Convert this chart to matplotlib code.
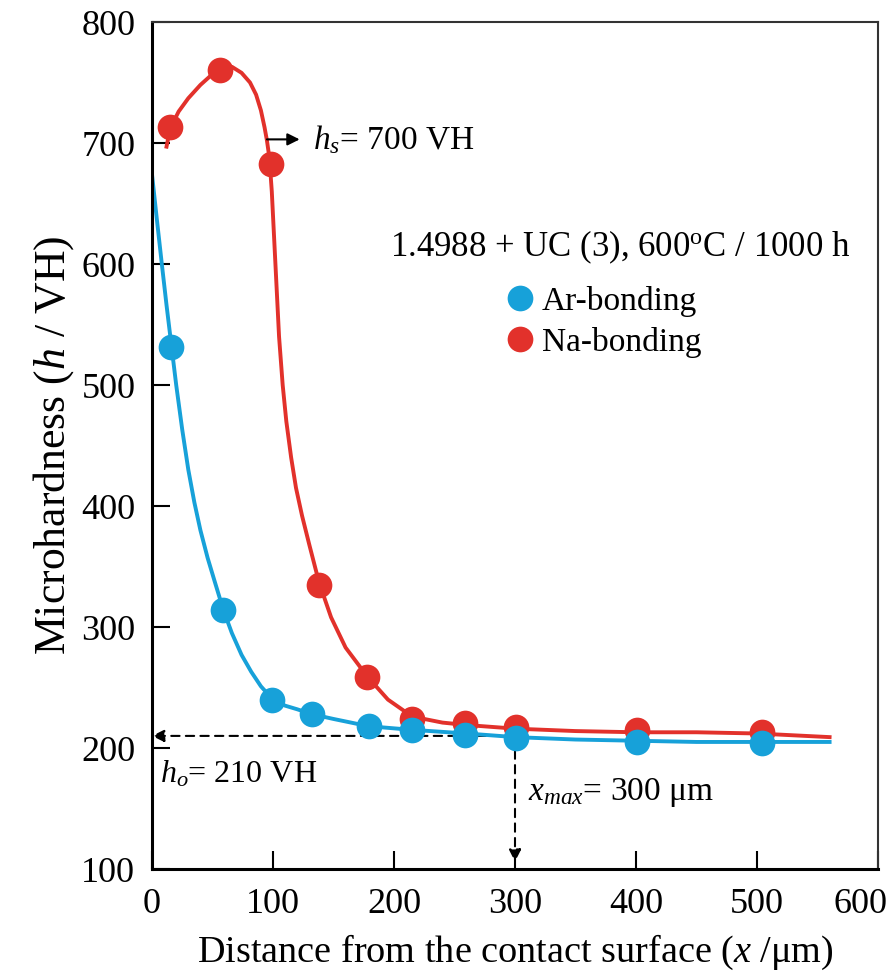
import matplotlib
matplotlib.use("Agg")
import matplotlib.pyplot as plt
import matplotlib.transforms as mtransforms

plt.rcParams['font.family'] = ['Liberation Serif', 'DejaVu Serif']
plt.rcParams['mathtext.fontset'] = 'custom'
plt.rcParams['mathtext.rm'] = 'Liberation Serif'
plt.rcParams['mathtext.it'] = 'Liberation Serif:italic'

blue = '#17a1d9'
red = '#e2312b'

# measured points
ar_x = [16, 59, 99, 132, 179, 215, 259, 301, 401, 504]
ar_y = [531, 314, 240, 228, 218, 215, 211, 208, 205, 204]
na_x = [15, 56, 98, 138, 178, 215, 259, 301, 401, 504]
na_y = [713, 760, 683, 335, 259, 224, 221, 217, 215, 213]

# fitted curves
ar_fit_x = [0, 4, 8, 12, 16, 20, 25, 30, 35, 40, 46, 52, 59, 66, 74, 82, 90,
            99, 110, 120, 132, 150, 179, 215, 260, 300, 350, 400, 450, 500, 560]
ar_fit_y = [674, 637, 601, 566, 533, 500, 463, 430, 403, 380, 357, 337, 314,
            295, 277, 263, 251, 241, 235, 232, 228, 224, 218, 215, 212, 209,
            207, 206, 205, 205, 205]
na_fit_x = [12, 15, 22, 30, 40, 50, 58, 66, 74, 81, 86, 90, 93, 95, 97, 99,
            101, 103, 105, 108, 111, 115, 119, 124, 130, 138, 148, 160, 178,
            195, 215, 240, 260, 300, 350, 400, 450, 500, 560]
na_fit_y = [697, 712, 726, 737, 748, 757, 762, 763, 758, 750, 740, 727, 713,
            702, 688, 660, 620, 580, 540, 500, 470, 440, 415, 392, 368, 337,
            308, 283, 259, 240, 226, 221, 219, 216, 214, 213, 213, 212, 209]

h_s = 700
h_o = 210
x_max = 300

fig = plt.figure(figsize=(8.91, 9.74), dpi=100)
ax = fig.add_axes([0.1706, 0.1078, 0.8148, 0.8696])

ax.plot(ar_fit_x, ar_fit_y, color=blue, lw=2.8, zorder=2)
ax.plot(na_fit_x, na_fit_y, color=red, lw=2.8, zorder=2)
ax.plot(na_x, na_y, 'o', color=red, ms=18.5, mec='none', zorder=3, label='Na-bonding')
ax.plot(ar_x, ar_y, 'o', color=blue, ms=18.5, mec='none', zorder=4, label='Ar-bonding')

# dashed guide lines
ax.annotate('', xy=(0, h_o), xytext=(x_max, h_o),
            arrowprops=dict(arrowstyle='-|>', ls=(0, (4, 3)), lw=1.5, color='black',
                            mutation_scale=18, shrinkA=0, shrinkB=0), zorder=1)
ax.annotate('', xy=(x_max, 106), xytext=(x_max, h_o),
            arrowprops=dict(arrowstyle='-|>', ls=(0, (4, 3)), lw=1.5, color='black',
                            mutation_scale=18, shrinkA=0, shrinkB=0), zorder=1)
ax.annotate('', xy=(122, 703), xytext=(95, 703),
            arrowprops=dict(arrowstyle='-|>', lw=1.5, color='black',
                            mutation_scale=18, shrinkA=0, shrinkB=0))

ax.text(133, 703, r'$h_s$= %d VH' % h_s, fontsize=24, va='center', ha='left')
ax.text(7, 178, r'$h_o$= %d VH' % h_o, fontsize=23, va='center', ha='left')
ax.text(311, 163, r'$x_{max}$= %d μm' % x_max, fontsize=24, va='center', ha='left')

ax.text(387, 614, '1.4988 + UC (3), 600$^{\\mathrm{o}}$C / 1000 h', fontsize=25,
        ha='center', va='center')
handles, labels = ax.get_legend_handles_labels()
ax.legend(handles[::-1], labels[::-1], loc='upper left', bbox_to_anchor=(0.468, 0.708),
          frameon=False, fontsize=24, handlelength=0.7, handletextpad=0.3,
          borderpad=0, labelspacing=0.3, markerscale=1.0)

ax.set_xlim(0, 600)
ax.set_ylim(100, 800)
ax.set_xticks([0, 100, 200, 300, 400, 500, 600])
ax.set_yticks([100, 200, 300, 400, 500, 600, 700, 800])
ax.tick_params(direction='in', length=13, width=1.5, labelsize=26, pad=12)
ax.tick_params(axis='x', pad=14)
for s in ['left', 'bottom']:
    ax.spines[s].set_linewidth(2.2)
for s in ['top', 'right']:
    ax.spines[s].set_linewidth(1.5)
    ax.spines[s].set_color('#333333')

# keep the last x tick label inside the figure
last = ax.get_xticklabels()[-1]
last.set_transform(last.get_transform() +
                   mtransforms.ScaledTranslation(-0.17, 0, fig.dpi_scale_trans))

ax.set_xlabel('Distance from the contact surface ($x$ /μm)', fontsize=27.5, labelpad=8)
ax.set_ylabel('Microhardness ($h$ / VH)', fontsize=31.5, labelpad=4)

fig.savefig('out.png', dpi=100)
